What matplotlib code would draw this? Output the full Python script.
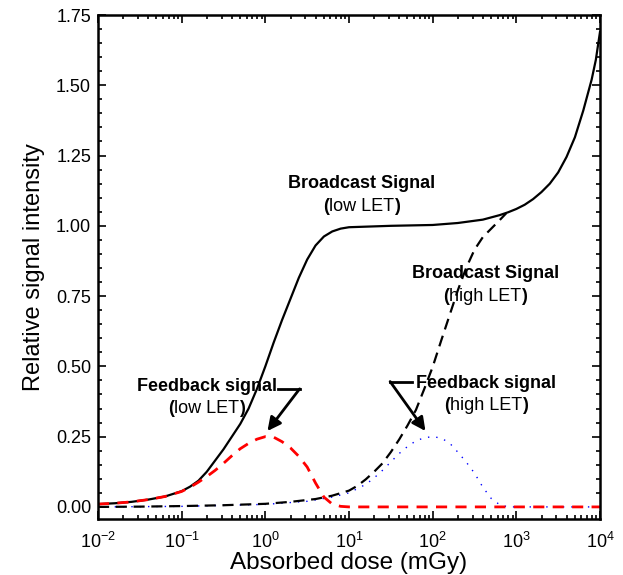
import matplotlib
matplotlib.use("Agg")
import matplotlib.pyplot as plt
from matplotlib.offsetbox import TextArea, HPacker, VPacker, AnnotationBbox
from matplotlib.ticker import LogLocator, MultipleLocator, FormatStrFormatter, FixedLocator

plt.rcParams['font.family'] = ['Liberation Sans', 'DejaVu Sans']
plt.rcParams['mathtext.fontset'] = 'custom'
plt.rcParams['mathtext.rm'] = 'Liberation Sans'

# doses are given as log10(mGy)

# Broadcast signal, low LET (solid black)
logd_bl = [-2.0, -1.8, -1.6, -1.4, -1.2, -1.0, -0.9, -0.8, -0.7, -0.6, -0.5,
           -0.4, -0.3, -0.2, -0.1, 0.0, 0.1, 0.2, 0.3, 0.4, 0.5, 0.6, 0.7,
           0.8, 0.9, 1.0, 1.5, 2.0, 2.3, 2.6, 2.8, 2.9, 3.0, 3.1, 3.2, 3.3,
           3.4, 3.5, 3.6, 3.7, 3.8, 3.9, 3.95, 4.0]
sig_bl = [0.010, 0.013, 0.018, 0.026, 0.037, 0.056, 0.072, 0.093, 0.125, 0.165,
          0.205, 0.250, 0.295, 0.350, 0.420, 0.500, 0.585, 0.665, 0.740, 0.815,
          0.880, 0.930, 0.962, 0.980, 0.990, 0.995, 1.000, 1.003, 1.010, 1.022,
          1.038, 1.048, 1.060, 1.075, 1.095, 1.120, 1.150, 1.190, 1.245, 1.315,
          1.410, 1.520, 1.590, 1.690]

# Broadcast signal, high LET (dashed black)
logd_bh = [-2.0, -1.5, -1.0, -0.5, 0.0, 0.3, 0.6, 0.8, 1.0, 1.1, 1.2, 1.3,
           1.4, 1.5, 1.6, 1.7, 1.8, 1.9, 2.0, 2.1, 2.2, 2.3, 2.4, 2.5, 2.6,
           2.7, 2.8, 2.88]
sig_bh = [0.0, 0.001, 0.003, 0.006, 0.011, 0.018, 0.028, 0.040, 0.058, 0.075,
          0.098, 0.125, 0.155, 0.195, 0.240, 0.290, 0.345, 0.420, 0.498, 0.590,
          0.680, 0.770, 0.850, 0.915, 0.960, 0.990, 1.020, 1.045]

# Feedback signal, low LET (red dashed)
logd_fl = [-2.0, -1.8, -1.6, -1.4, -1.2, -1.0, -0.9, -0.8, -0.7, -0.6, -0.5,
           -0.4, -0.3, -0.2, -0.1, 0.0, 0.1, 0.2, 0.3, 0.4, 0.5, 0.6, 0.7,
           0.8, 0.9, 1.0, 4.0]
sig_fl = [0.010, 0.013, 0.018, 0.026, 0.037, 0.055, 0.070, 0.088, 0.108, 0.130,
          0.155, 0.182, 0.207, 0.226, 0.241, 0.250, 0.248, 0.232, 0.210, 0.180,
          0.142, 0.085, 0.035, 0.010, 0.002, 0.0, 0.0]

# Feedback signal, high LET (blue dotted)
logd_fh = [-2.0, -1.0, 0.0, 0.5, 0.8, 1.0, 1.1, 1.2, 1.3, 1.4, 1.5, 1.6, 1.7,
           1.8, 1.9, 2.0, 2.1, 2.2, 2.3, 2.4, 2.5, 2.6, 2.7, 2.8, 2.9, 4.0]
sig_fh = [0.0, 0.002, 0.009, 0.020, 0.035, 0.050, 0.065, 0.080, 0.103, 0.130,
          0.160, 0.190, 0.215, 0.235, 0.246, 0.250, 0.245, 0.228, 0.195, 0.160,
          0.120, 0.070, 0.030, 0.008, 0.0, 0.0]

x_decades = [-2, -1, 0, 1, 2, 3, 4]
x_ticklabels = ['$10^{%d}$' % e for e in x_decades]


def dose(logs):
    return [10 ** v for v in logs]


fig = plt.figure(figsize=(6.23, 5.75), dpi=100)
ax = fig.add_axes([98/623, 1 - 519/575, 502/623, 504/575])

ax.plot(dose(logd_fh), sig_fh, color='blue', lw=1.0, linestyle=(0, (1, 5)))
ax.plot(dose(logd_bl), sig_bl, color='black', lw=1.6)
ax.plot(dose(logd_bh), sig_bh, color='black', lw=1.6, linestyle=(0, (5, 3)))
ax.plot(dose(logd_fl), sig_fl, color='red', lw=2.0, linestyle=(0, (4, 3)))

ax.set_xscale('log')
ax.set_xlim(0.01, 10000)
ax.set_ylim(-0.043, 1.75)
ax.yaxis.set_major_locator(MultipleLocator(0.25))
ax.yaxis.set_minor_locator(MultipleLocator(0.05))
ax.yaxis.set_major_formatter(FormatStrFormatter('%.2f'))
ax.set_xticks(dose(x_decades))
ax.set_xticklabels(x_ticklabels)
ax.xaxis.set_minor_locator(LogLocator(base=10, subs=range(2, 10), numticks=100))
ax.xaxis.set_minor_formatter(plt.NullFormatter())
ax.tick_params(which='both', direction='in', top=True, right=True, width=1.2)
ax.tick_params(which='major', length=6, labelsize=13)
ax.tick_params(axis='y', which='major', pad=5)
ax.tick_params(axis='x', which='major', pad=9)
ax.tick_params(which='minor', length=3)
for s in ax.spines.values():
    s.set_linewidth(1.8)

ax.set_xlabel('Absorbed dose (mGy)', fontsize=17.5, labelpad=0)
ax.set_ylabel('Relative signal intensity', fontsize=17, labelpad=8)


def label(x, y, title, sub):
    fs = 13
    top = TextArea(title, textprops=dict(fontsize=fs, fontweight='bold'))
    bottom = HPacker(children=[
        TextArea('(', textprops=dict(fontsize=fs, fontweight='bold')),
        TextArea(sub, textprops=dict(fontsize=fs)),
        TextArea(')', textprops=dict(fontsize=fs, fontweight='bold')),
    ], align='baseline', pad=0, sep=0)
    box = VPacker(children=[top, bottom], align='center', pad=0, sep=4)
    ab = AnnotationBbox(box, (x, y), xycoords='data', frameon=False,
                        box_alignment=(0.5, 0.5))
    ax.add_artist(ab)


label(14, 1.11, 'Broadcast Signal', 'low LET')
label(427, 0.79, 'Broadcast Signal', 'high LET')
label(0.2, 0.39, 'Feedback signal', 'low LET')
label(437, 0.40, 'Feedback signal', 'high LET')

# arrows from labels to the feedback peaks
ax.plot([1.40, 2.57], [0.42, 0.42], color='black', lw=2)
ax.annotate('', xy=(1.06, 0.27), xytext=(2.57, 0.42),
            arrowprops=dict(arrowstyle='-|>', color='black', lw=2,
                            mutation_scale=20, shrinkA=0, shrinkB=0))
ax.plot([57, 31], [0.446, 0.446], color='black', lw=2)
ax.annotate('', xy=(82, 0.27), xytext=(31, 0.446),
            arrowprops=dict(arrowstyle='-|>', color='black', lw=2,
                            mutation_scale=20, shrinkA=0, shrinkB=0))

fig.savefig('out.png', dpi=100)
